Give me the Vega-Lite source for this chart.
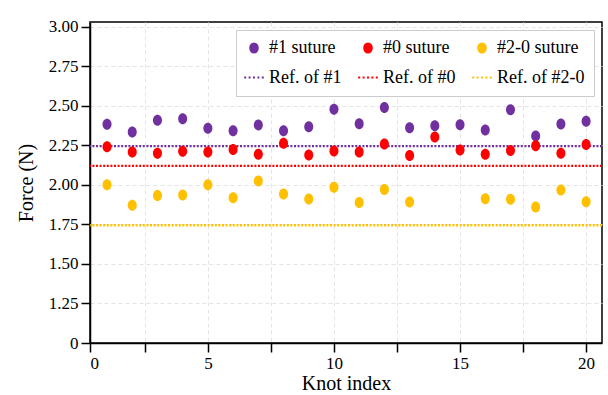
{
  "$schema": "https://vega.github.io/schema/vega-lite/v6.json",
  "width": 512,
  "height": 321,
  "autosize": {"type": "none"},
  "padding": {"left": 90, "top": 22, "right": 6, "bottom": 52},
  "background": "white",
  "datasets": {
    "points": [
      {"knot": 1, "series": "#1 suture", "force": 2.383},
      {"knot": 2, "series": "#1 suture", "force": 2.334},
      {"knot": 3, "series": "#1 suture", "force": 2.408},
      {"knot": 4, "series": "#1 suture", "force": 2.418},
      {"knot": 5, "series": "#1 suture", "force": 2.358},
      {"knot": 6, "series": "#1 suture", "force": 2.343},
      {"knot": 7, "series": "#1 suture", "force": 2.379},
      {"knot": 8, "series": "#1 suture", "force": 2.343},
      {"knot": 9, "series": "#1 suture", "force": 2.368},
      {"knot": 10, "series": "#1 suture", "force": 2.478},
      {"knot": 11, "series": "#1 suture", "force": 2.387},
      {"knot": 12, "series": "#1 suture", "force": 2.489},
      {"knot": 13, "series": "#1 suture", "force": 2.362},
      {"knot": 14, "series": "#1 suture", "force": 2.374},
      {"knot": 15, "series": "#1 suture", "force": 2.381},
      {"knot": 16, "series": "#1 suture", "force": 2.347},
      {"knot": 17, "series": "#1 suture", "force": 2.475},
      {"knot": 18, "series": "#1 suture", "force": 2.309},
      {"knot": 19, "series": "#1 suture", "force": 2.385},
      {"knot": 20, "series": "#1 suture", "force": 2.402},
      {"knot": 1, "series": "#0 suture", "force": 2.241},
      {"knot": 2, "series": "#0 suture", "force": 2.208},
      {"knot": 3, "series": "#0 suture", "force": 2.2},
      {"knot": 4, "series": "#0 suture", "force": 2.212},
      {"knot": 5, "series": "#0 suture", "force": 2.208},
      {"knot": 6, "series": "#0 suture", "force": 2.223},
      {"knot": 7, "series": "#0 suture", "force": 2.193},
      {"knot": 8, "series": "#0 suture", "force": 2.263},
      {"knot": 9, "series": "#0 suture", "force": 2.189},
      {"knot": 10, "series": "#0 suture", "force": 2.214},
      {"knot": 11, "series": "#0 suture", "force": 2.208},
      {"knot": 12, "series": "#0 suture", "force": 2.259},
      {"knot": 13, "series": "#0 suture", "force": 2.185},
      {"knot": 14, "series": "#0 suture", "force": 2.303},
      {"knot": 15, "series": "#0 suture", "force": 2.221},
      {"knot": 16, "series": "#0 suture", "force": 2.193},
      {"knot": 17, "series": "#0 suture", "force": 2.218},
      {"knot": 18, "series": "#0 suture", "force": 2.248},
      {"knot": 19, "series": "#0 suture", "force": 2.2},
      {"knot": 20, "series": "#0 suture", "force": 2.255},
      {"knot": 1, "series": "#2-0 suture", "force": 2.0},
      {"knot": 2, "series": "#2-0 suture", "force": 1.871},
      {"knot": 3, "series": "#2-0 suture", "force": 1.932},
      {"knot": 4, "series": "#2-0 suture", "force": 1.936},
      {"knot": 5, "series": "#2-0 suture", "force": 2.001},
      {"knot": 6, "series": "#2-0 suture", "force": 1.919},
      {"knot": 7, "series": "#2-0 suture", "force": 2.025},
      {"knot": 8, "series": "#2-0 suture", "force": 1.943},
      {"knot": 9, "series": "#2-0 suture", "force": 1.911},
      {"knot": 10, "series": "#2-0 suture", "force": 1.985},
      {"knot": 11, "series": "#2-0 suture", "force": 1.888},
      {"knot": 12, "series": "#2-0 suture", "force": 1.97},
      {"knot": 13, "series": "#2-0 suture", "force": 1.892},
      {"knot": 16, "series": "#2-0 suture", "force": 1.913},
      {"knot": 17, "series": "#2-0 suture", "force": 1.909},
      {"knot": 18, "series": "#2-0 suture", "force": 1.86},
      {"knot": 19, "series": "#2-0 suture", "force": 1.968},
      {"knot": 20, "series": "#2-0 suture", "force": 1.894}
    ],
    "refs": [
      {"series": "Ref. of #1", "force": 2.245},
      {"series": "Ref. of #0", "force": 2.12},
      {"series": "Ref. of #2-0", "force": 1.745}
    ]
  },
  "encoding": {
    "y": {
      "field": "force",
      "type": "quantitative",
      "title": "Force (N)",
      "scale": {"domain": [1, 3.03], "zero": false, "nice": false},
      "axis": {
        "values": [1, 1.25, 1.5, 1.75, 2, 2.25, 2.5, 2.75, 3],
        "labelExpr": "datum.value == 1 ? '0' : format(datum.value, '.2f')",
        "titlePadding": 12
      }
    },
    "color": {
      "field": "series",
      "type": "nominal",
      "scale": {
        "domain": ["#1 suture", "#0 suture", "#2-0 suture", "Ref. of #1", "Ref. of #0", "Ref. of #2-0"],
        "range": ["#7030A0", "#FF0000", "#FFC000", "#7030A0", "#FF0000", "#FFC000"]
      },
      "legend": {
        "title": null,
        "orient": "top-right",
        "direction": "horizontal",
        "gridAlign": "each",
        "offset": 8,
        "columns": 3,
        "columnPadding": 11,
        "rowPadding": 11.5,
        "padding": 9,
        "symbolSize": 81,
        "labelOffset": 6,
        "labelFont": "Liberation Serif",
        "labelFontSize": 18,
        "labelColor": "black",
        "labelLimit": 200,
        "fillColor": "white",
        "strokeColor": "#cccccc",
        "encode": {
          "symbols": {
            "update": {
              "shape": {"scale": "shape", "field": "value"},
              "fill": {"scale": "color", "field": "value"},
              "stroke": {"scale": "color", "field": "value"},
              "strokeWidth": {"value": 2.2},
              "strokeDash": {"value": []},
              "opacity": {"value": 1}
            }
          }
        }
      }
    }
  },
  "layer": [
    {
      "data": {"name": "refs"},
      "mark": {"type": "rule", "strokeWidth": 2.4, "strokeDash": [2, 1.6]},
      "encoding": {}
    },
    {
      "data": {"name": "points"},
      "mark": {
        "type": "point",
        "filled": true,
        "opacity": 1,
        "size": 121
      },
      "encoding": {
        "x": {
          "field": "knot",
          "type": "quantitative",
          "title": "Knot index",
          "scale": {"domain": [0.325, 20.63], "zero": false, "nice": false},
          "axis": {
            "orient": "bottom",
            "values": [0.325, 2.5, 5, 7.5, 10, 12.5, 15, 17.5, 20],
            "labelExpr": "datum.value < 1 ? '0' : (datum.value % 5 == 0 ? format(datum.value, 'd') : '')",
            "titlePadding": 2
          }
        },
        "shape": {
          "field": "series",
          "type": "nominal",
          "legend": null,
          "scale": {
            "domain": ["#1 suture", "#0 suture", "#2-0 suture", "Ref. of #1", "Ref. of #0", "Ref. of #2-0"],
            "range": [
              "M 0 -1 C 0.4529 -1 0.82 -0.5523 0.82 0 C 0.82 0.5523 0.4529 1 0 1 C -0.4529 1 -0.82 0.5523 -0.82 0 C -0.82 -0.5523 -0.4529 -1 0 -1 Z",
              "M 0 -1 C 0.4529 -1 0.82 -0.5523 0.82 0 C 0.82 0.5523 0.4529 1 0 1 C -0.4529 1 -0.82 0.5523 -0.82 0 C -0.82 -0.5523 -0.4529 -1 0 -1 Z",
              "M 0 -1 C 0.4529 -1 0.82 -0.5523 0.82 0 C 0.82 0.5523 0.4529 1 0 1 C -0.4529 1 -0.82 0.5523 -0.82 0 C -0.82 -0.5523 -0.4529 -1 0 -1 Z",
              "M -2.18 0 L -1.73 0 M -1.2 0 L -0.76 0 M -0.22 0 L 0.22 0 M 0.76 0 L 1.2 0 M 1.73 0 L 2.18 0",
              "M -2.18 0 L -1.73 0 M -1.2 0 L -0.76 0 M -0.22 0 L 0.22 0 M 0.76 0 L 1.2 0 M 1.73 0 L 2.18 0",
              "M -2.18 0 L -1.73 0 M -1.2 0 L -0.76 0 M -0.22 0 L 0.22 0 M 0.76 0 L 1.2 0 M 1.73 0 L 2.18 0"
            ]
          }
        }
      }
    }
  ],
  "config": {
    "font": "Liberation Serif",
    "view": {"stroke": "black", "strokeWidth": 1.5},
    "axis": {
      "domainColor": "black",
      "domainWidth": 1.5,
      "tickColor": "black",
      "tickWidth": 1.5,
      "tickSize": 9,
      "labelFont": "Liberation Serif",
      "labelFontSize": 17,
      "labelColor": "black",
      "labelPadding": 3,
      "titleFont": "Liberation Serif",
      "titleFontSize": 20,
      "titleFontWeight": "normal",
      "titleColor": "black",
      "grid": true,
      "gridColor": "#e4e4e4",
      "gridDash": [4, 3],
      "gridWidth": 1
    }
  }
}
